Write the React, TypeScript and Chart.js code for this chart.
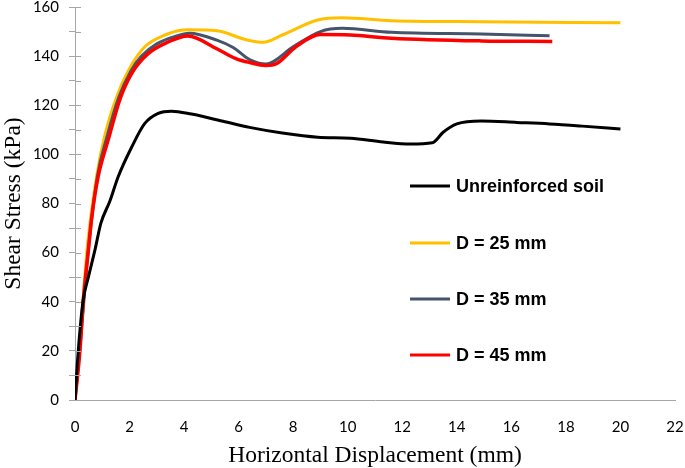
import { useEffect, useRef } from "react";
import Chart from "chart.js/auto";

// horizontal displacement (mm) / shear stress (kPa)
const unreinforcedX = [0, 0.12, 0.3, 0.49, 0.73, 0.95, 1.28, 1.58, 2.08, 2.56, 3.05, 3.54, 4.27, 5.5, 6.4, 7.6, 8.9, 10.1, 11.3, 12.3, 13.1, 13.5, 14.0, 14.9, 16.2, 17.4, 18.6, 20];
const unreinforcedY = [0, 20, 40.7, 50, 61, 72, 81, 90.8, 103, 112.6, 116.7, 117.6, 116.4, 113.3, 111, 108.7, 107, 106.6, 105, 104.2, 104.7, 109, 112.4, 113.6, 113, 112.4, 111.5, 110.3];

const d25X = [0, 0.17, 0.45, 0.79, 1.1, 1.53, 1.95, 2.56, 3.3, 4.14, 5.2, 6.3, 6.9, 7.6, 8.9, 9.8, 11.6, 14.9, 20];
const d25Y = [0, 22, 62, 91, 108, 123.5, 134, 143.8, 148.6, 150.7, 150.3, 146.6, 145.6, 148.6, 154.7, 155.6, 154.4, 154, 153.6];

const d35X = [0, 0.18, 0.48, 0.82, 1.17, 1.6, 2.05, 2.44, 3.0, 3.66, 4.2, 5.2, 5.8, 6.4, 7.0, 8.0, 9.0, 9.8, 11.6, 14.9, 17.4];
const d35Y = [0, 21, 60, 91, 107, 123, 134, 140, 145, 148, 149.3, 146.5, 143.5, 138.6, 136.8, 143.8, 150, 151.3, 149.7, 149, 148.3];

const d45X = [0, 0.18, 0.3, 0.49, 0.61, 0.85, 1.22, 1.65, 2.08, 2.68, 3.4, 4.14, 5.2, 5.9, 6.4, 7.0, 7.4, 8.1, 9.0, 10.1, 11.6, 14.9, 17.5];
const d45Y = [0, 20, 40, 61, 74, 91, 106, 122.5, 133, 141, 145.7, 148.2, 143, 139, 137.4, 136.2, 137, 143.8, 148.8, 148.6, 147.3, 146.2, 146];

const seriesNames = ["Unreinforced soil", "D = 25 mm", "D = 35 mm", "D = 45 mm"];
const seriesColors = ["#000000", "#FFC000", "#44546A", "#FF0000"];
const seriesWidths = [3, 3, 3, 3.5];
const drawOrder = [0, 3, 2, 1];

const toPoints = (xs: number[], ys: number[]) => xs.map((x, i) => ({ x, y: ys[i] }));

const insideLegend = {
  id: "insideLegend",
  afterDraw(chart: any) {
    const ctx = chart.ctx;
    const rows = [186, 243, 299, 355];
    ctx.save();
    ctx.font = "bold 18px 'Liberation Sans', Arial, sans-serif";
    ctx.textBaseline = "middle";
    ctx.textAlign = "left";
    seriesNames.forEach((name, i) => {
      ctx.strokeStyle = seriesColors[i];
      ctx.lineWidth = 3;
      ctx.beginPath();
      ctx.moveTo(410, rows[i]);
      ctx.lineTo(450, rows[i]);
      ctx.stroke();
      ctx.fillStyle = "#000";
      ctx.fillText(name, 456, rows[i] + 1);
    });
    ctx.restore();
  },
};

// tick marks on the y axis cross the axis line
const innerTicks = {
  id: "innerTicks",
  afterDraw(chart: any) {
    const ctx = chart.ctx;
    const y = chart.scales.y;
    const left = chart.chartArea.left;
    ctx.save();
    ctx.strokeStyle = "#A6A6A6";
    ctx.lineWidth = 1;
    y.ticks.forEach((t: any) => {
      const py = Math.round(y.getPixelForValue(t.value)) + 0.5;
      ctx.beginPath();
      ctx.moveTo(left, py);
      ctx.lineTo(left + 6, py);
      ctx.stroke();
    });
    ctx.restore();
  },
};

export default function App() {
  const canvasRef = useRef<HTMLCanvasElement>(null);
  const chartRef = useRef<any>(null);

  useEffect(() => {
    if (chartRef.current) chartRef.current.destroy();
    if (!canvasRef.current) return;

    const allData = [
      toPoints(unreinforcedX, unreinforcedY),
      toPoints(d25X, d25Y),
      toPoints(d35X, d35Y),
      toPoints(d45X, d45Y),
    ];

    chartRef.current = new Chart(canvasRef.current, {
      type: "line",
      data: {
        datasets: allData.map((pts, i) => ({
          label: seriesNames[i],
          data: pts,
          borderColor: seriesColors[i],
          backgroundColor: seriesColors[i],
          borderWidth: seriesWidths[i],
          order: drawOrder[i],
          pointRadius: 0,
          cubicInterpolationMode: "monotone",
          fill: false,
        })),
      },
      options: {
        responsive: true,
        maintainAspectRatio: false,
        animation: false,
        layout: { padding: { top: 7, right: 10, left: 0, bottom: 0 } },
        plugins: {
          legend: { display: false },
          tooltip: { enabled: false },
        },
        scales: {
          x: {
            type: "linear",
            min: 0,
            max: 22,
            afterFit: (scale: any) => {
              scale.height = 68;
              scale.paddingLeft = 0;
              scale.paddingRight = 0;
            },
            border: { display: true, color: "#A6A6A6", width: 1 },
            grid: { display: false, drawTicks: false },
            ticks: {
              stepSize: 2,
              padding: 18,
              color: "#000",
              font: { family: "Lato", size: 15 },
              maxRotation: 0,
            },
            title: {
              display: true,
              text: "Horizontal Displacement (mm)",
              color: "#000",
              padding: 0,
              font: { family: "'Liberation Serif', 'Times New Roman', serif", size: 23.5, lineHeight: 1 },
            },
          },
          y: {
            min: 0,
            max: 160,
            afterFit: (scale: any) => {
              scale.width = 75;
              scale.paddingTop = 0;
              scale.paddingBottom = 0;
            },
            border: { display: true, color: "#A6A6A6", width: 1 },
            grid: {
              display: true,
              drawOnChartArea: false,
              drawTicks: true,
              tickLength: 6,
              color: "#A6A6A6",
            },
            ticks: {
              stepSize: 10,
              padding: 10,
              color: "#000",
              font: { family: "Lato", size: 15 },
              callback: (v: any) => (v % 20 === 0 ? String(v) : ""),
            },
            title: {
              display: true,
              text: "Shear Stress (kPa)",
              color: "#000",
              padding: 0,
              font: { family: "'Liberation Serif', 'Times New Roman', serif", size: 23.5 },
            },
          },
        },
      },
      plugins: [insideLegend, innerTicks],
    });

    return () => {
      if (chartRef.current) {
        chartRef.current.destroy();
        chartRef.current = null;
      }
    };
  }, []);

  return (
    <div style={{ position: "absolute", left: 0, top: 0, width: 685, height: 468, background: "#fff" }}>
      <canvas ref={canvasRef} />
    </div>
  );
}
